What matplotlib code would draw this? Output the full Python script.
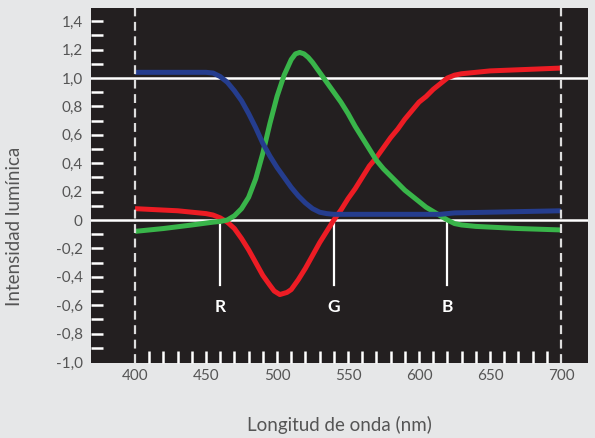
import numpy as np
import matplotlib.pyplot as plt

# wavelength grid (nm) and curve values
wl_red = [400, 410, 420, 430, 440, 445, 450, 455, 460, 465, 470, 475, 480, 485, 490, 495,
          498, 502, 507, 510, 515, 520, 525, 530, 535, 540, 545, 550, 555, 560, 565, 570, 575,
          580, 585, 590, 595, 600, 605, 610, 615, 620, 625, 630, 650, 675, 700]
red = [0.08, 0.075, 0.07, 0.065, 0.055, 0.05, 0.045, 0.035, 0.015, -0.015, -0.06, -0.13,
       -0.21, -0.30, -0.39, -0.46, -0.50, -0.525, -0.51, -0.49, -0.42, -0.34, -0.25, -0.16,
       -0.08, 0.0, 0.07, 0.15, 0.22, 0.30, 0.38, 0.44, 0.51, 0.58, 0.64, 0.71, 0.77, 0.83,
       0.87, 0.92, 0.96, 1.0, 1.02, 1.03, 1.05, 1.06, 1.07]

wl_green = [400, 420, 440, 455, 460, 465, 470, 475, 480, 485, 490, 495, 500, 505, 510, 513,
            516, 519, 522, 525, 530, 535, 540, 545, 550, 555, 560, 565, 570, 575, 580, 585,
            590, 595, 600, 605, 610, 615, 620, 625, 630, 640, 650, 670, 700]
green = [-0.08, -0.06, -0.035, -0.015, -0.01, 0.0, 0.03, 0.08, 0.16, 0.29, 0.47, 0.68,
         0.87, 1.02, 1.13, 1.17, 1.18, 1.17, 1.145, 1.11, 1.04, 0.97, 0.90, 0.83, 0.75,
         0.66, 0.58, 0.50, 0.42, 0.36, 0.31, 0.26, 0.21, 0.17, 0.13, 0.09, 0.06, 0.03, 0.0,
         -0.025, -0.035, -0.045, -0.05, -0.06, -0.07]

wl_blue = [400, 420, 440, 450, 455, 460, 465, 470, 475, 480, 485, 490, 495, 500, 505, 510,
           515, 520, 525, 530, 535, 540, 580, 615, 620, 625, 650, 675, 700]
blue = [1.04, 1.04, 1.04, 1.04, 1.035, 1.01, 0.97, 0.91, 0.84, 0.75, 0.65, 0.54, 0.45,
        0.37, 0.30, 0.23, 0.17, 0.12, 0.08, 0.055, 0.045, 0.04, 0.04, 0.04, 0.045, 0.05,
        0.055, 0.06, 0.065]

primaries = ['R', 'G', 'B']
primary_wl = [460, 540, 620]

x_labels = [400, 450, 500, 550, 600, 650, 700]
y_labels = [-1.0, -0.8, -0.6, -0.4, -0.2, 0, 0.2, 0.4, 0.6, 0.8, 1.0, 1.2, 1.4]

plt.rcParams['font.family'] = ['Lato', 'DejaVu Sans']
txt_col = '#555555'

fig = plt.figure(figsize=(5.95, 4.38), dpi=100, facecolor='#e6e7e8')
ax = fig.add_axes([91 / 595, 75 / 438, 497 / 595, 355 / 438])
ax.set_facecolor('#231f20')
for s in ax.spines.values():
    s.set_visible(False)

ax.set_xlim(369.0, 719.0)
ax.set_ylim(-1.007, 1.493)

# reference lines
ax.axhline(0, color='white', lw=1.8, zorder=2)
ax.axhline(1.0, color='white', lw=1.8, zorder=2)
for w in [400, 700]:
    ax.axvline(w, color='#dddddd', lw=1.6, ls=(0, (4, 2.5)), zorder=5)

for lab, w in zip(primaries, primary_wl):
    ax.plot([w, w], [0, -0.46], color='white', lw=1.6, zorder=2)
    ax.text(w, -0.61, lab, color='white', fontsize=12.5, fontweight='bold',
            ha='center', va='center')

kw = dict(lw=3.6, solid_capstyle='butt', solid_joinstyle='round')
ax.plot(wl_red, red, color='#ed1c24', zorder=3, **kw)
ax.plot(wl_green, green, color='#39b54a', zorder=3, **kw)
ax.plot(wl_blue, blue, color='#253d8e', zorder=4, **kw)

# ticks
ax.xaxis.remove_overlapping_locs = False
ax.yaxis.remove_overlapping_locs = False
ax.set_xticks(x_labels)
ax.set_xticklabels([str(v) for v in x_labels])
ax.set_xticks(np.arange(410, 700, 10), minor=True)
ax.set_yticks(y_labels)
ax.set_yticklabels(['0' if v == 0 else ('%.1f' % v).replace('.', ',') for v in y_labels])
ax.set_yticks([v / 10 for v in range(-9, 15) if v not in (0, 10)], minor=True)

ax.tick_params(which='major', length=0, labelsize=11, labelcolor=txt_col, pad=6)
ax.tick_params(which='minor', direction='in', length=8.5, width=1.8, color='white')
ax.tick_params(axis='x', which='major', pad=4)

ax.set_xlabel('Longitud de onda (nm)', fontsize=13.5, color=txt_col)
ax.xaxis.set_label_coords(0.5, -0.148)
ax.set_ylabel('Intensidad lumínica', fontsize=13.5, color=txt_col)
ax.yaxis.set_label_coords(-0.137, 0.386)

fig.savefig('out.png', dpi=100, facecolor=fig.get_facecolor())
